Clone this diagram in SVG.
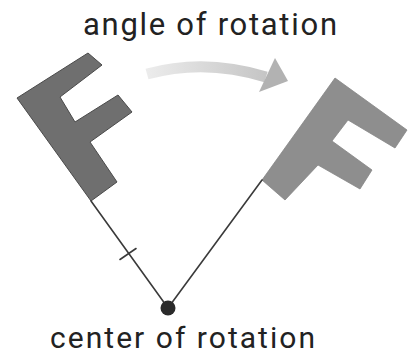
<svg xmlns="http://www.w3.org/2000/svg" width="415" height="356" viewBox="0 0 415 356">
  <defs>
    <linearGradient id="arcGrad" x1="147" y1="0" x2="270" y2="0" gradientUnits="userSpaceOnUse">
      <stop offset="0" stop-color="#ececec"/>
      <stop offset="1" stop-color="#c4c4c4"/>
    </linearGradient>
    <style>
      .label { font-family: Roboto, "Liberation Sans", sans-serif; fill: #222; }
      .ray { stroke: #3a3a3a; stroke-width: 1.6; fill: none; stroke-linecap: round; }
    </style>
  </defs>
  <rect width="415" height="356" fill="#ffffff"/>

  <g id="title">
    <text class="label" x="210" y="35" font-size="31" text-anchor="middle" textLength="254" lengthAdjust="spacing">angle of rotation</text>
  </g>

  <g id="f-original">
    <polygon points="17,98 88,53 102,65 60,97 75,122 118,95 132,112 90,142 117,182 91,201" fill="#6f6f6f" stroke="#4a4a4a" stroke-width="1" stroke-linejoin="round"/>
  </g>

  <g id="f-rotated">
    <polygon points="335,78 407,130 395,148 348,120 332,141 372,170 360,189 318,165 285,200 262,180" fill="#8e8e8e" stroke="#858585" stroke-width="0.8" stroke-linejoin="round"/>
  </g>

  <g id="connectors">
    <line class="ray" x1="91" y1="201" x2="168" y2="308"/>
    <line class="ray" x1="168" y1="308" x2="262" y2="180"/>
    <line class="ray" x1="120" y1="259.5" x2="136" y2="248.5" stroke-width="2"/>
    <path d="M147,74 Q205,58 266,77" fill="none" stroke="url(#arcGrad)" stroke-width="11"/>
    <polygon points="275,58 288,81 259,92" fill="#b2b2b2"/>
  </g>

  <g id="center">
    <circle cx="168" cy="308" r="7.5" fill="#2a2a2a"/>
  </g>

  <g id="label-center">
    <text class="label" x="182.5" y="348" font-size="30" text-anchor="middle" textLength="265" lengthAdjust="spacing">center of rotation</text>
  </g>
</svg>
